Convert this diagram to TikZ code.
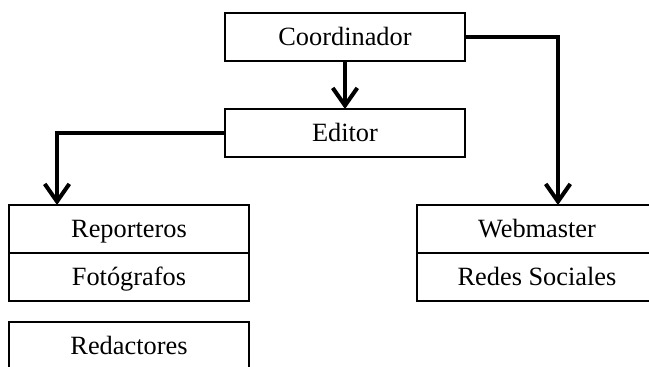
\documentclass[tikz,border=0pt]{standalone}
\usepackage{fontspec}
\setmainfont{Liberation Serif}
\usetikzlibrary{arrows.meta, positioning, shadows}

\begin{document}
\begin{tikzpicture}[x=0.02cm, y=-0.02cm,
  box/.style={draw, fill=white, line width=1.1pt, minimum width=4.8cm, minimum height=0.96cm,
    inner sep=0pt, outer sep=0pt, text height=0.95em, text depth=0pt,
    font=\fontsize{15}{18}\selectfont,
    drop shadow={opacity=0.12, shadow xshift=0.8pt, shadow yshift=-0.8pt}},
  link/.style={line width=2.3pt, -{Straight Barb[length=10pt, width=14pt]}}]
  \useasboundingbox (0,0) rectangle (649,366);

  % top of the chart
  \node[box] (coord) at (345,37) {Coordinador};
  \node[box] (editor) at (345,133) {Editor};

  % left group
  \node[box] (rep) at (129,229) {Reporteros};
  \node[box, below=0pt of rep] (foto) {Fotógrafos};
  \node[box] (red) at (129,346) {Redactores};

  % right group
  \node[box] (web) at (537,229) {Webmaster};
  \node[box, below=0pt of web] (redes) {Redes Sociales};

  \coordinate (repin) at ([xshift=0.96cm]rep.north west);
  \coordinate (webin) at ([xshift=0.42cm]web.north);

  \draw[link] (coord) -- (editor);
  \draw[link] (editor.west) -| (repin);
  \draw[link] (coord.east) -| (webin);
\end{tikzpicture}
\end{document}
